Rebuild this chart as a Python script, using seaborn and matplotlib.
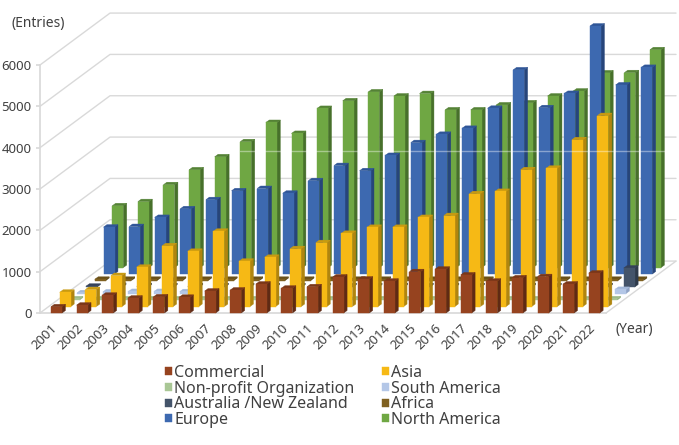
import matplotlib
matplotlib.use('Agg')
import matplotlib.pyplot as plt
from matplotlib.transforms import ScaledTranslation
import seaborn as sns

years = [str(y) for y in range(2001, 2023)]
y_ticks = [0, 1000, 2000, 3000, 4000, 5000, 6000]

# series, front to back
commercial = [150, 190, 430, 360, 390, 380, 530, 555, 700, 600, 635, 870,
              820, 770, 1000, 1060, 920, 770, 850, 880, 700, 965]
asia = [345, 410, 750, 950, 1470, 1335, 1820, 1095, 1190, 1400, 1545, 1770,
        1915, 1915, 2155, 2200, 2730, 2785, 3310, 3345, 4035, 4620]
non_profit = [30, 30, 30, 30, 30, 30, 30, 30, 30, 30, 30, 30,
              30, 30, 30, 30, 30, 30, 30, 30, 30, 30]
south_america = [20, 40, 50, 50, 45, 45, 30, 30, 30, 30, 30, 30,
                 30, 30, 30, 30, 30, 30, 30, 30, 30, 100]
australia_nz = [20, 40, 30, 30, 30, 30, 30, 30, 30, 30, 30, 30,
                30, 30, 30, 30, 30, 30, 30, 30, 30, 460]
africa = [30, 30, 30, 30, 30, 30, 30, 30, 30, 30, 30, 30,
          30, 30, 30, 30, 30, 30, 30, 30, 30, 30]
europe = [1135, 1150, 1370, 1580, 1800, 2015, 2070, 1955, 2260, 2625, 2500, 2870,
          3180, 3380, 3525, 4010, 4940, 4025, 4370, 6000, 4575, 5000]
north_america = [1495, 1595, 2005, 2365, 2680, 3045, 3510, 3245, 3850, 4035, 4250, 4150,
                 4210, 3815, 3815, 3935, 3985, 4150, 4270, 4710, 4715, 5270]

names = ['Commercial', 'Asia', 'Non-profit Organization', 'South America',
         'Australia /New Zealand', 'Africa', 'Europe', 'North America']
values = [commercial, asia, non_profit, south_america,
          australia_nz, africa, europe, north_america]
front_cols = ['#96431F', '#F6B915', '#A9C795', '#B4C7E7', '#44546A', '#7F6020', '#3D69B0', '#6FA743']
side_cols = ['#5F2A14', '#B0850F', '#8FAF7C', '#8FA3C6', '#2E3A4A', '#55400F', '#27457A', '#47702B']
top_cols = ['#7A3618', '#C99A10', '#9DBB89', '#A3B8DA', '#34415A', '#6A5018', '#2F5597', '#548235']

# oblique depth, category units / value units
step_x = 70 / 25.6 / 8
step_y = 52 / 41.4 * 1000 / 8
bar_dx = 3.4 / 25.6
bar_dy = 2.5 / 41.4 * 1000
grid_col = '#D9D9D9'

sns.set_theme(style='white')
plt.rcParams['font.family'] = ['Noto Sans', 'DejaVu Sans']
text_col = '#404040'

fig = plt.figure(figsize=(6.79, 4.45), dpi=100)
ax = fig.add_axes([40 / 679, (445 - 313) / 445, 566 / 679, 248 / 445])

handles = {}
for depth in range(7, -1, -1):
    sns.barplot(x=years, y=values[depth], order=years, color=front_cols[depth], saturation=1,
                width=0.43, linewidth=0.3, edgecolor=front_cols[depth], clip_on=False, ax=ax)
    bars = ax.containers[-1]
    handles[names[depth]] = bars
    z = 10 + (7 - depth)
    for bar in bars:
        bar.set_x(bar.get_x() + depth * step_x)
        bar.set_y(bar.get_y() + depth * step_y)
        bar.set_zorder(z + 0.1)
        x0, y0, w, h = bar.get_x(), bar.get_y(), bar.get_width(), bar.get_height()
        ax.fill([x0 + w, x0 + w + bar_dx, x0 + w + bar_dx, x0 + w],
                [y0, y0 + bar_dy, y0 + h + bar_dy, y0 + h],
                color=side_cols[depth], lw=0.3, clip_on=False, zorder=z)
        ax.fill([x0, x0 + w, x0 + w + bar_dx, x0 + bar_dx],
                [y0 + h, y0 + h, y0 + h + bar_dy, y0 + h + bar_dy],
                color=top_cols[depth], lw=0.3, clip_on=False, zorder=z)

ax.set_xlim(-0.645, 21.46)
ax.set_ylim(0, 6000)

# walls
wall_x = 70 / 25.6
wall_y = 52 / 41.4 * 1000
for t in y_ticks:
    ax.plot([-0.645, -0.645 + wall_x, 21.46 + wall_x], [t, t + wall_y, t + wall_y],
            color=grid_col, lw=1, clip_on=False, zorder=1)
ax.plot([21.46, 21.46 + wall_x], [0, wall_y], color=grid_col, lw=1, clip_on=False, zorder=1)

# pale seam across the bars
ax.plot([7.17, 23.77], [3913, 3913], color='white', alpha=0.4, lw=1, clip_on=False, zorder=30)

sns.despine(ax=ax)
for side in ['left', 'bottom']:
    ax.spines[side].set_color(grid_col)
ax.set_yticks(y_ticks)
ax.set_xticks(range(len(years)))
ax.set_xticklabels(years, rotation=45, ha='right', va='top', rotation_mode='anchor')
ax.tick_params(axis='y', left=True, length=3, color=grid_col, labelsize=9.5, labelcolor=text_col, pad=3)
ax.tick_params(axis='x', bottom=False, labelsize=9.5, labelcolor=text_col, pad=3)
shift = ScaledTranslation(-4 / 72, 3 / 72, fig.dpi_scale_trans)
for label in ax.get_xticklabels():
    label.set_transform(label.get_transform() + shift)
ax.set_xlabel('')
ax.set_ylabel('')

fig.text(11 / 679, 1 - 24 / 445, '(Entries)', fontsize=10, color=text_col, va='center')
fig.text(616 / 679, 1 - 330 / 445, '(Year)', fontsize=10, color=text_col, va='center')

order = ['Commercial', 'Non-profit Organization', 'Australia /New Zealand', 'Europe',
         'Asia', 'South America', 'Africa', 'North America']
fig.legend([handles[n] for n in order], order, ncols=2, frameon=False,
           loc='upper left', bbox_to_anchor=(165 / 679, 1 - 365 / 445),
           fontsize=11.5, handlelength=0.42, handleheight=0.42, handletextpad=0.15,
           columnspacing=1.75, labelspacing=-0.02, borderpad=0, borderaxespad=0,
           labelcolor=text_col)

fig.savefig('out.png', dpi=100)
